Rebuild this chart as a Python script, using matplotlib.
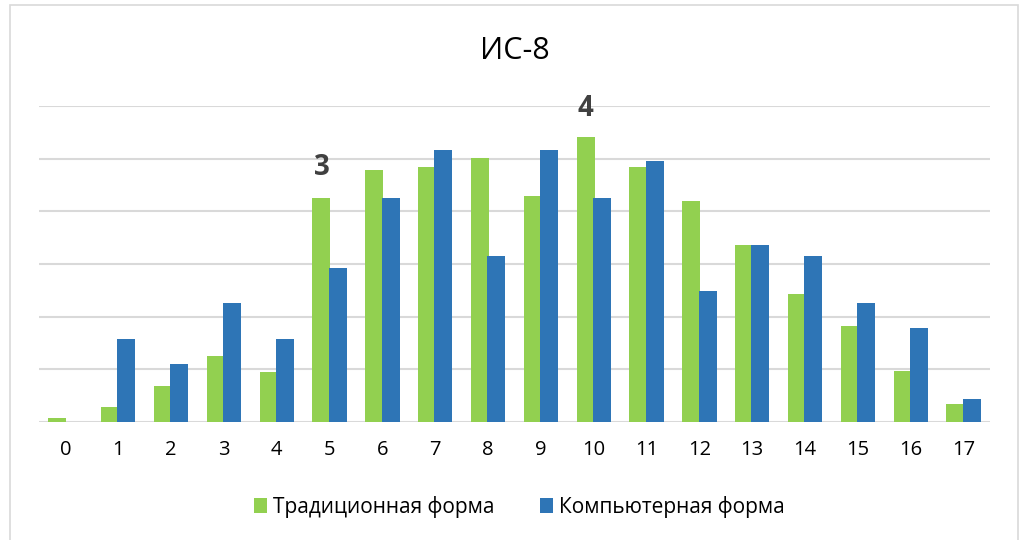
import numpy as np
import matplotlib.pyplot as plt
from matplotlib.patches import Rectangle

# данные (1 деление сетки = 1)
categories = [str(i) for i in range(18)]
traditional = [0.08, 0.29, 0.68, 1.26, 0.95, 4.25, 4.78, 4.85, 5.01, 4.29,
               5.41, 4.84, 4.19, 3.36, 2.44, 1.82, 0.97, 0.34]
computer = [0.0, 1.57, 1.11, 2.26, 1.57, 2.92, 4.26, 5.17, 3.15, 5.17,
            4.26, 4.95, 2.48, 3.37, 3.15, 2.26, 1.79, 0.44]
series_names = ['Традиционная форма', 'Компьютерная форма']
marks = [(5, '3'), (10, '4')]
mark_heights = [4.84, 5.96]

plt.rcParams['font.family'] = ['Open Sans', 'DejaVu Sans']

fig = plt.figure(figsize=(10.33, 5.4), dpi=100)
ax = fig.add_axes([0.0378, 0.2185, 0.9205, 0.5852])

x = np.arange(len(categories))
w = 0.34
ax.bar(x - 0.155, traditional, w, color='#92D050', label=series_names[0], zorder=2)
ax.bar(x + 0.155, computer, w, color='#2E75B6', label=series_names[1], zorder=3)

ax.set_xlim(-0.5, len(categories) - 0.5)
ax.set_ylim(0, 6)
ax.set_yticks(range(7))
ax.yaxis.grid(True, color='#D9D9D9', linewidth=1.5, zorder=0)
ax.set_axisbelow(True)
ax.tick_params(axis='y', left=False, labelleft=False)
ax.set_xticks(x)
ax.set_xticklabels(categories, fontsize=14.5)
ax.tick_params(axis='x', length=0, pad=13)
for s in ax.spines.values():
    s.set_visible(False)

for (i, t), h in zip(marks, mark_heights):
    ax.text(i - 0.15, h, t, ha='center', va='center', fontsize=20,
            fontweight='bold', color='#404040')

fig.text(0.4985, 0.905, 'ИС-8', ha='center', va='center', fontsize=22)

fig.legend(loc='center', bbox_to_anchor=(0.503, 0.061), ncol=2, frameon=False,
           fontsize=15, handlelength=0.6, handleheight=0.7, handletextpad=0.3,
           columnspacing=2.2)

fig.patches.append(Rectangle((0.0097, -0.05), 0.976, 1.04, transform=fig.transFigure,
                             fill=False, edgecolor='#D9D9D9', linewidth=1.2))

fig.savefig('out.png', dpi=100)
